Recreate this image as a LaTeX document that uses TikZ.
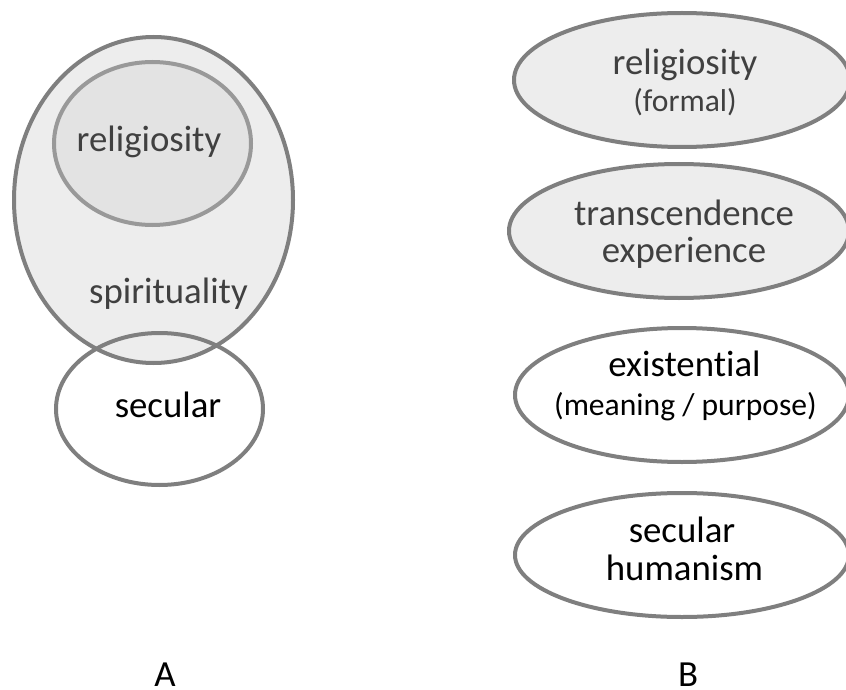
\documentclass[tikz,border=0pt]{standalone}
\usepackage{fontspec}
\setmainfont{Carlito}[Ligatures=NoCommon]
\usepackage{xcolor}
\definecolor{ringGray}{HTML}{7F7F7F}
\definecolor{ringLight}{HTML}{999999}
\definecolor{fillOuter}{HTML}{EDEDED}
\definecolor{fillInner}{HTML}{E3E3E3}
\definecolor{textGray}{HTML}{404040}
\usetikzlibrary{shapes.geometric,positioning}
\newcommand{\bigtext}{\fontsize{18.4}{20}\selectfont}
\newcommand{\smalltext}{\fontsize{15.8}{20}\selectfont}
\tikzset{
    ring/.style={
        draw=ringGray,
        ellipse,
        line width=2pt,
        inner sep=0pt
    },
    shaded/.style={
        ring,
        fill=fillOuter
    },
    word/.style={
        font=\bigtext,
        anchor=base,
        inner sep=0pt
    },
    smallword/.style={
        word,
        font=\smalltext
    }
}

\begin{document}
\begin{tikzpicture}[x=0.5pt,y=-0.5pt]
    \useasboundingbox (0,0) rectangle (846,690);

    % A: nested circles
    \node[shaded, minimum width=139.5pt, minimum height=163pt] (spirit) at (153.5,200) {};
    \node[shaded, draw=ringLight, fill=fillInner, minimum width=98.5pt, minimum height=81.5pt] (relig) at (152.5,143.5) {};
    \node[ring, minimum width=103.5pt, minimum height=76pt] (secular) at (159.5,409) {};
    \node[word, text=textGray] (religlbl) at (149,152) {religiosity};
    \node[word, text=textGray] (spiritlbl) at (168.5,303) {spirituality};
    \node[word] (secularlbl) at (168,417) {secular};

    % B: separate domains
    \node[shaded, minimum width=168pt, minimum height=67pt] (formal) at (682,80) {};
    \node[shaded, minimum width=170pt, minimum height=67pt] (transc) at (679,231) {};
    \node[ring, minimum width=167pt, minimum height=67pt] (exist) at (682,395) {};
    \node[ring, minimum width=167pt, minimum height=62pt] (human) at (682,555) {};

    \node[word, text=textGray] (formalA) at (685,75) {religiosity};
    \node[smallword, text=textGray] (formalB) at (685,112) {(formal)};
    \node[word, text=textGray] (transcA) at (684,225) {transcendence};
    \node[word, text=textGray] (transcB) at (684,262) {experience};
    \node[word] (existA) at (684.5,376) {existential};
    \node[smallword] (existB) at (685.5,415) {(meaning / purpose)};
    \node[word] (humanA) at (682,542) {secular};
    \node[word] (humanB) at (684.5,580) {humanism};

    \node[word] (labelA) at (165,686) {A};
    \node[word] (labelB) at (688,686) {B};
\end{tikzpicture}
\end{document}
